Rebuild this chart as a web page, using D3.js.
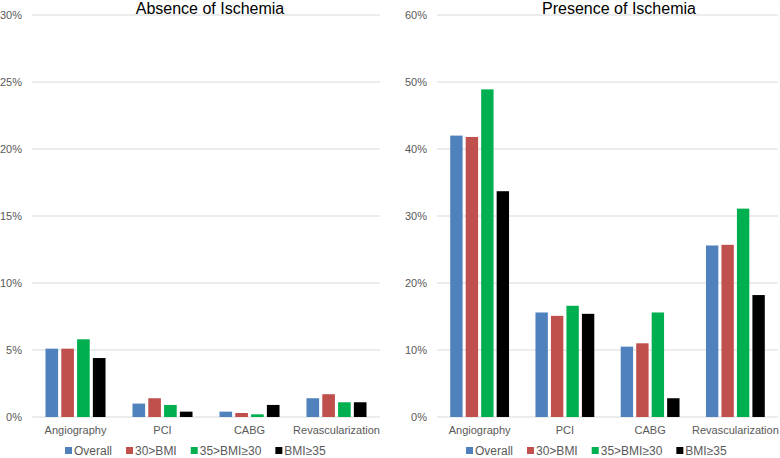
<!DOCTYPE html>
<html><head><meta charset="utf-8">
<script src="https://cdn.jsdelivr.net/npm/d3@7"></script>
<style>body{margin:0;background:#fff}svg{display:block}text{font-family:"Liberation Sans",Arial,sans-serif}</style>
</head><body>
<svg id="c" width="780" height="458"></svg>
<script>
const categories = ["Angiography","PCI","CABG","Revascularization"];
const seriesNames = ["Overall","30>BMI","35>BMI≥30","BMI≥35"];
const colors = ["#4F81BD","#C0504D","#00B050","#000000"];
// Absence of Ischemia (%)
const absOverall = [5.1, 1.0, 0.4, 1.4];
const absBmiLt30 = [5.1, 1.4, 0.3, 1.7];
const abs30to35 = [5.8, 0.9, 0.2, 1.1];
const absBmiGe35 = [4.4, 0.4, 0.9, 1.1];
// Presence of Ischemia (%)
const preOverall = [42.0, 15.6, 10.5, 25.6];
const preBmiLt30 = [41.8, 15.1, 11.0, 25.7];
const pre30to35 = [48.9, 16.6, 15.6, 31.1];
const preBmiGe35 = [33.7, 15.4, 2.8, 18.2];
const absTicks = [0,5,10,15,20,25,30];
const preTicks = [0,10,20,30,40,50,60];

const svg = d3.select("#c");

function panel(cfg){
  const g = svg.append("g");
  const x = d3.scaleBand().domain(categories).range([cfg.x0, cfg.x1]).paddingInner(0).paddingOuter(0);
  const y = d3.scaleLinear().domain([0, cfg.max]).range([417, 15]);
  const inner = d3.scaleBand().domain(seriesNames).range([0, x.bandwidth()*cfg.groupFrac]).paddingInner(0.2);
  // grid
  g.selectAll("line.grid").data(cfg.ticks).join("line")
    .attr("x1", cfg.x0).attr("x2", cfg.x1)
    .attr("y1", d=>y(d)).attr("y2", d=>y(d))
    .attr("stroke", "#D9D9D9").attr("stroke-width", 1);
  // y labels
  g.selectAll("text.yl").data(cfg.ticks).join("text")
    .attr("x", cfg.labelX).attr("y", d=>y(d)+4)
    .attr("text-anchor","end").attr("font-size", 11).attr("fill","#595959")
    .text(d=>d+"%");
  // bars
  const series = cfg.data;
  const off = (x.bandwidth() - x.bandwidth()*cfg.groupFrac)/2;
  series.forEach((vals, si) => {
    g.selectAll("rect.s"+si).data(vals).join("rect")
      .attr("x", (d,i)=> x(categories[i]) + off + inner(seriesNames[si]))
      .attr("y", d=>y(d))
      .attr("width", inner.bandwidth())
      .attr("height", d=>y(0)-y(d))
      .attr("fill", colors[si]);
  });
  // category labels
  g.selectAll("text.cl").data(categories).join("text")
    .attr("x", d=>x(d)+x.bandwidth()/2).attr("y", 434)
    .attr("text-anchor","middle").attr("font-size", 11).attr("fill","#595959")
    .text(d=>d);
  // title
  g.append("text").attr("x", cfg.titleX).attr("y", 14).attr("text-anchor","middle")
    .attr("font-size", 16).attr("fill","#000").text(cfg.title);
  // legend
  let lx = cfg.legendX;
  const lg = g.append("g");
  seriesNames.forEach((n, i) => {
    lg.append("rect").attr("x", lx).attr("y", 447).attr("width", 7).attr("height", 7).attr("fill", colors[i]);
    const t = lg.append("text").attr("x", lx+9).attr("y", 455).attr("font-size", 12).attr("fill","#595959").text(n);
    lx += 9 + t.node().getComputedTextLength() + 14;
  });
}

panel({x0:32, x1:380, max:30, ticks:absTicks, labelX:22, title:"Absence of Ischemia", titleX:210, legendX:65,
  groupFrac:0.69, data:[absOverall, absBmiLt30, abs30to35, absBmiGe35]});
panel({x0:437, x1:778, max:60, ticks:preTicks, labelX:427, title:"Presence of Ischemia", titleX:619, legendX:466,
  groupFrac:0.69, data:[preOverall, preBmiLt30, pre30to35, preBmiGe35]});
</script>
</body></html>
